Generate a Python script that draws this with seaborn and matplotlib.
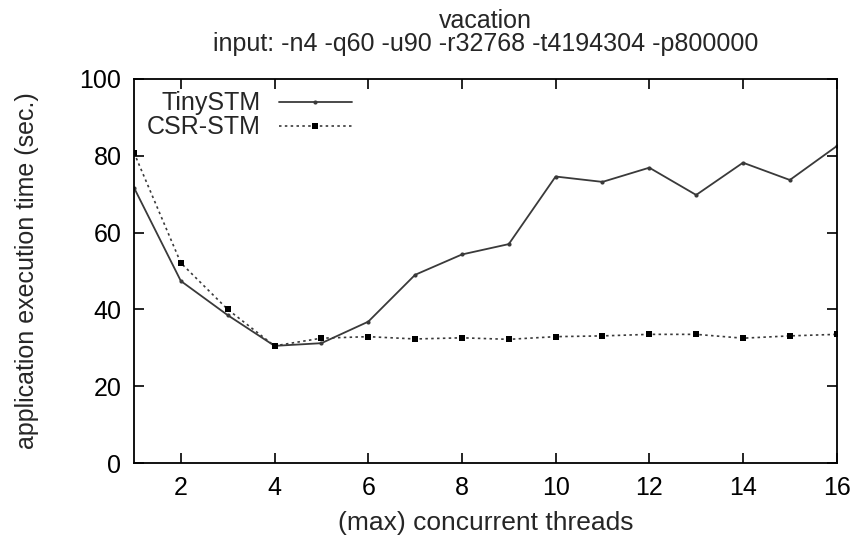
import matplotlib
matplotlib.use("Agg")
import matplotlib.pyplot as plt
import numpy as np
import pandas as pd
import seaborn as sns

# Execution time of the vacation benchmark versus thread count
threads = [1, 2, 3, 4, 5, 6, 7, 8, 9, 10, 11, 12, 13, 14, 15, 16]
tinystm = [71.7, 47.4, 38.5, 30.5, 31.2, 36.8, 49.0, 54.3, 57.0, 74.6, 73.2, 76.9, 69.8, 78.2, 73.7, 82.5]
csrstm = [80.8, 52.1, 40.0, 30.5, 32.5, 32.9, 32.3, 32.6, 32.2, 32.9, 33.1, 33.5, 33.5, 32.5, 33.1, 33.5]

x_ticks = [2, 4, 6, 8, 10, 12, 14, 16]
y_ticks = [0, 20, 40, 60, 80, 100]

sns.set_theme(style="ticks")
plt.rcParams["font.family"] = ["Liberation Sans", "DejaVu Sans"]

df_tiny = pd.DataFrame({"threads": threads, "time": tinystm})
df_csr = pd.DataFrame({"threads": threads, "time": csrstm})

fig = plt.figure(figsize=(8.6, 5.38), dpi=100)
ax = fig.add_axes([0.1558, 0.1394, 0.9729 - 0.1558, 0.8532 - 0.1394])

sns.lineplot(data=df_tiny, x="threads", y="time", ax=ax, color="#3a3a3a",
             linewidth=1.3, marker="o", markersize=3, markeredgewidth=0,
             label="TinySTM")
sns.lineplot(data=df_csr, x="threads", y="time", ax=ax, color="#3a3a3a",
             linewidth=1.2, linestyle=(0, (1.5, 2)), marker="s", markersize=5,
             markeredgewidth=0, markerfacecolor="black", label="CSR-STM")

ax.set_xlim(1, 16)
ax.set_ylim(0, 100)
ax.set_xticks(x_ticks)
ax.set_yticks(y_ticks)
ax.tick_params(direction="in", length=7, width=1.2, labelsize=18,
               top=True, right=True, colors="black", pad=9)
for s in ax.spines.values():
    s.set_linewidth(1.3)
    s.set_color("black")

ax.set_xlabel("(max) concurrent threads", fontsize=19, labelpad=8)
ax.set_ylabel("application execution time (sec.)", fontsize=18, labelpad=29)
ax.set_title("vacation\ninput: -n4 -q60 -u90 -r32768 -t4194304 -p800000",
             fontsize=18, pad=20, linespacing=0.95)

leg = ax.legend(loc="upper left", frameon=False, markerfirst=False,
                fontsize=18, handlelength=2.9, borderaxespad=0.1,
                labelspacing=0.0, handletextpad=0.75,
                bbox_to_anchor=(0.0, 1.0))

fig.savefig("out.png", dpi=100, facecolor="white")
